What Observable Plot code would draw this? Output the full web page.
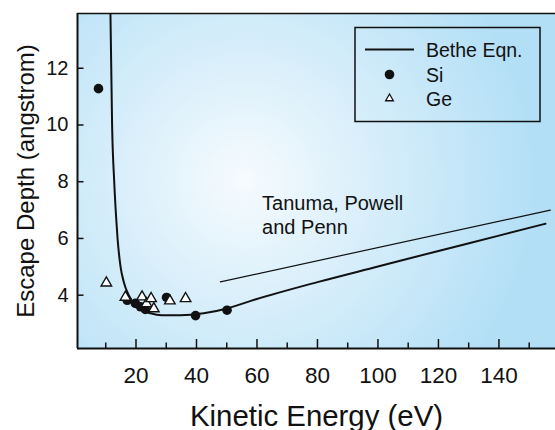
<!DOCTYPE html>
<html><head><meta charset="utf-8">
<script src="https://cdn.jsdelivr.net/npm/d3@7"></script>
<script src="https://cdn.jsdelivr.net/npm/@observablehq/plot@0.6"></script>
<style>
body{margin:0;background:#fff;}
#wrap{position:relative;width:555px;height:430px;font-family:"Liberation Sans",Arial,sans-serif;}
#bgpanel{position:absolute;left:77px;top:13px;width:478px;height:335px;
  background:radial-gradient(circle 290px at 168px 167px,#f6fbfe 0%,#def1fb 35%,#b3dff6 100%);}
#wrap svg{position:absolute;left:0;top:0;}
</style></head><body>
<div id="wrap"><div id="bgpanel"></div></div>
<script>
// ---- data ----
const siEnergy = [7.6, 17.1, 19.8, 21.5, 23.1, 30.1, 39.7, 50.1];
const siDepth  = [11.28, 3.82, 3.71, 3.59, 3.50, 3.92, 3.28, 3.47];
const geEnergy = [10.2, 16.5, 22.0, 23.5, 25.0, 25.9, 31.2, 36.4];
const geDepth  = [4.43, 3.93, 3.94, 3.70, 3.88, 3.52, 3.80, 3.88];
const betheEnergy = [11.55, 12.1, 12.8, 13.4, 13.9, 14.9, 16.0, 17.6, 19.3, 21.5, 24.8, 28.5, 34.7, 42.4, 50.1, 58.0, 80, 100, 120, 140, 155.4];
const betheDepth  = [13.93, 10.0, 8.0, 6.8, 6.0, 5.0, 4.45, 4.0, 3.7, 3.5, 3.36, 3.29, 3.29, 3.36, 3.53, 3.80, 4.46, 5.01, 5.56, 6.1, 6.52];
const tppEnergy = [47.9, 157];
const tppDepth  = [4.47, 7.0];
const xMajorTicks = [20, 40, 60, 80, 100, 120, 140];
const xMinorTicks = [10, 30, 50, 70, 90, 110, 130, 150];
const yTicks = [4, 6, 8, 10, 12];
const xDomain = [0.66, 158.7];
const yDomain = [2.12, 13.93];
const xLabel = "Kinetic Energy (eV)";
const yLabel = "Escape Depth (angstrom)";
const annotation = {x: 61.7, y: 7.59, text: "Tanuma, Powell\nand Penn"};
const legendLabels = ["Bethe Eqn.", "Si", "Ge"];

const FONT = '"Liberation Sans", Arial, sans-serif';
const W = 555, H = 430, ML = 77, MR = 0, MT = 13, MB = 82;
const frameW = W - ML - MR, frameH = H - MT - MB;
const si = siEnergy.map((x, i) => ({x, y: siDepth[i]}));
const ge = geEnergy.map((x, i) => ({x, y: geDepth[i]}));
const bethe = betheEnergy.map((x, i) => ({x, y: betheDepth[i]}));
const tpp = tppEnergy.map((x, i) => ({x, y: tppDepth[i]}));

const chart = Plot.plot({
  width: W,
  height: H,
  marginLeft: ML,
  marginRight: MR,
  marginTop: MT,
  marginBottom: MB,
  style: {fontFamily: FONT, background: "transparent", color: "#111", overflow: "visible"},
  x: {domain: xDomain},
  y: {domain: yDomain},
  marks: [
    // tick labels
    Plot.axisX(xMajorTicks, {tickSize: 0, tickPadding: 19, fontSize: 22.5, label: null, fill: "#111"}),
    Plot.axisY(yTicks, {tickSize: 0, tickPadding: 9, fontSize: 20, label: null, fill: "#111"}),
    Plot.line(tpp, {x: "x", y: "y", stroke: "#111", strokeWidth: 1.2}),
    Plot.line(bethe, {x: "x", y: "y", stroke: "#111", strokeWidth: 2, curve: "monotone-x", clip: true}),
    Plot.dot(si, {x: "x", y: "y", r: 4.8, fill: "#111", stroke: "none"}),
    Plot.dot(ge, {x: "x", y: "y", r: 3.9, symbol: "triangle", fill: "white", stroke: "#111", strokeWidth: 1.4}),
    Plot.text([annotation], {x: "x", y: "y", text: "text", textAnchor: "start", lineAnchor: "top", lineHeight: 1.2, fontSize: 20, fill: "#111"}),
    Plot.text([xLabel], {text: d => d, frameAnchor: "bottom", textAnchor: "middle", dy: 77, lineAnchor: "bottom", fontSize: 29.4, fill: "#111"}),
    Plot.text([yLabel], {text: d => d, frameAnchor: "left", textAnchor: "middle", rotate: -90, dx: -44, lineAnchor: "bottom", fontSize: 24, fill: "#111"}),
    // inward tick marks, inset from the frame so they stay inside it
    Plot.tickX(xMinorTicks, {x: d => d, insetTop: frameH - 5.5, stroke: "#111", strokeWidth: 1.5}),
    Plot.tickX(xMajorTicks, {x: d => d, insetTop: frameH - 9, stroke: "#111", strokeWidth: 1.5}),
    Plot.tickY(yTicks, {y: d => d, insetRight: frameW - 6.5, stroke: "#111", strokeWidth: 1.5}),
    // axis lines
    Plot.ruleY([yDomain[0]], {stroke: "#111", strokeWidth: 2}),
    Plot.ruleY([yDomain[1]], {stroke: "#111", strokeWidth: 1.5}),
    Plot.ruleX([xDomain[0]], {stroke: "#111", strokeWidth: 2})
  ]
});
const wrap = document.getElementById("wrap");
wrap.appendChild(chart);

// legend
const lg = d3.select(wrap).append("svg").attr("width", W).attr("height", H)
  .style("font-family", FONT).style("pointer-events", "none");
lg.append("rect").attr("x", 355).attr("y", 27.5).attr("width", 185).attr("height", 94)
  .attr("fill", "none").attr("stroke", "#111").attr("stroke-width", 1.5);
const rowY = [49.5, 74.5, 98.5];
lg.append("line").attr("x1", 365).attr("x2", 414).attr("y1", rowY[0]).attr("y2", rowY[0])
  .attr("stroke", "#111").attr("stroke-width", 2);
lg.append("circle").attr("cx", 389.5).attr("cy", rowY[1]).attr("r", 4.8).attr("fill", "#111");
lg.append("path").attr("transform", `translate(389.5,${rowY[2]})`)
  .attr("d", d3.symbol(d3.symbolTriangle, 26)()).attr("fill", "white").attr("stroke", "#111").attr("stroke-width", 1.3);
legendLabels.forEach((t, i) => {
  lg.append("text").attr("x", 426).attr("y", rowY[i]).attr("dy", "0.36em")
    .attr("font-size", 19.5).attr("fill", "#111").text(t);
});
</script>
</body></html>
